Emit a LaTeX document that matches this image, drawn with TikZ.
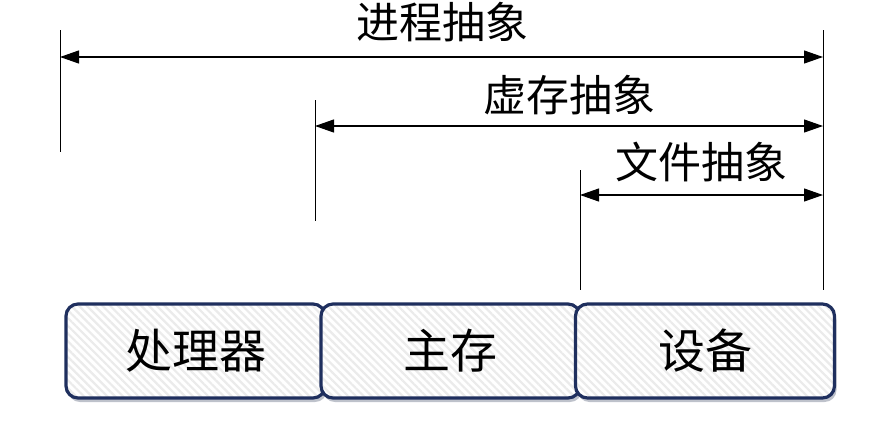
\documentclass[tikz,border=0pt]{standalone}
\usepackage{fontspec}
\setmainfont{Noto Sans CJK SC}
\usetikzlibrary{arrows.meta,patterns.meta,shadows}
\definecolor{navy}{HTML}{1F2F5E}
\tikzset{
  unit/.style={rounded corners=12pt,
    minimum width=259pt, minimum height=94pt, inner sep=0pt,
    font=\fontsize{47}{50}\selectfont,
    drop shadow={opacity=0.35, shadow xshift=2pt, shadow yshift=-4pt, fill=navy!60!gray},
    preaction={fill=white},
    preaction={pattern={Lines[angle=-45,distance=5.5pt,line width=2.2pt]}, pattern color=gray!16},
    draw=navy, line width=3.2pt},
  guide/.style={line width=1pt, black},
  span/.style={line width=1.1pt, {Triangle[length=19pt,width=13pt]}-{Triangle[length=19pt,width=13pt]}},
  lbl/.style={font=\fontsize{43}{46}\selectfont, inner sep=0pt}
}
\newcommand{\boxtxt}[1]{\raisebox{-4pt}{#1}}
\begin{document}
\begin{tikzpicture}[x=1pt,y=-1pt]
\useasboundingbox (0,0) rectangle (882,429);
% guides
\coordinate (g1t) at (60,30);  \coordinate (g1b) at (60,152);
\coordinate (g2t) at (315,100); \coordinate (g2b) at (315,221);
\coordinate (g3t) at (580,170); \coordinate (g3b) at (580,290);
\coordinate (g4t) at (823,30); \coordinate (g4b) at (823,290);
\draw[guide] (g1t) -- (g1b);
\draw[guide] (g2t) -- (g2b);
\draw[guide] (g3t) -- (g3b);
\draw[guide] (g4t) -- (g4b);
% spans
\coordinate (a1l) at (60,57);  \coordinate (a1r) at (823,57);
\coordinate (a2l) at (315,126); \coordinate (a2r) at (823,126);
\coordinate (a3l) at (580,195); \coordinate (a3r) at (823,195);
\draw[span] (a1l) -- (a1r);
\draw[span] (a2l) -- (a2r);
\draw[span] (a3l) -- (a3r);
\node[lbl] (l1) at (442,22) {进程抽象};
\node[lbl] (l2) at (569,95) {虚存抽象};
\node[lbl] (l3) at (701,162) {文件抽象};
% boxes
\node[unit] (cpu) at (195.5,351) {\boxtxt{处理器}};
\node[unit] (mem) at (450.5,351) {\boxtxt{主存}};
\node[unit] (dev) at (705,351) {\boxtxt{设备}};
\end{tikzpicture}
\end{document}
